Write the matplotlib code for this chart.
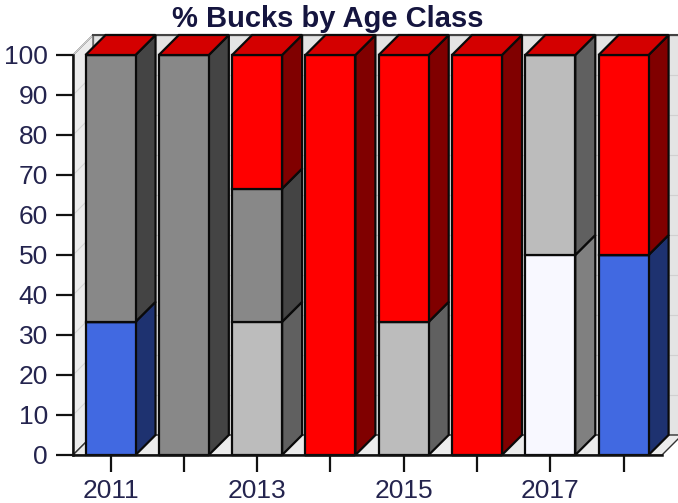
import matplotlib
matplotlib.use("Agg")
import matplotlib.pyplot as plt
from matplotlib.patches import Polygon
import numpy as np

plt.rcParams['font.family'] = ['Liberation Sans', 'DejaVu Sans']

years = [2011, 2012, 2013, 2014, 2015, 2016, 2017, 2018]
tick_labels = ['2011', '', '2013', '', '2015', '', '2017', '']
series_names = ['A', 'B', 'C', 'D', 'E']
s_blue = [33.3, 0, 0, 0, 0, 0, 0, 50.0]
s_white = [0, 0, 0, 0, 0, 0, 50.0, 0]
s_lgray = [0, 0, 33.3, 0, 33.3, 0, 50.0, 0]
s_dgray = [66.7, 100.0, 33.3, 0, 0, 0, 0, 0]
s_red = [0, 0, 33.4, 100.0, 66.7, 100.0, 0, 50.0]

series = [s_blue, s_white, s_lgray, s_dgray, s_red]
front_cols = ['#4169e1', '#f8f8ff', '#bcbcbc', '#888888', '#ff0000']
side_cols = ['#1e3270', '#808080', '#606060', '#444444', '#800000']
top_col = '#d40000'

W, H = 678, 503
fig = plt.figure(figsize=(W / 100, H / 100), dpi=100)
ax = fig.add_axes([73 / W, (H - 455) / H, 589 / W, 400 / H])
xmin, xmax = -0.512, 7.524
ax.set_xlim(xmin, xmax)
ax.set_ylim(0, 100)

dx, dy = 0.273, 5.0
bw = 0.682
wall = '#e4e4e4'
edge = '#0a0a0a'
elw = 1.6

# walls and floor
ax.add_patch(Polygon([(xmin + dx, dy), (xmax + dx, dy), (xmax + dx, 100 + dy), (xmin + dx, 100 + dy)],
                     closed=True, fc=wall, ec='#9a9a9a', lw=1.0, zorder=0.3, clip_on=False))
ax.add_patch(Polygon([(xmin, 0), (xmin, 100), (xmin + dx, 100 + dy), (xmin + dx, dy)],
                     closed=True, fc='#ececec', ec='#555555', lw=1.0, zorder=0.4, clip_on=False))
ax.add_patch(Polygon([(xmin, 0), (xmax, 0), (xmax + dx, dy), (xmin + dx, dy)],
                     closed=True, fc='#ececec', ec='#333333', lw=1.0, zorder=0.4, clip_on=False))
for v in range(10, 101, 10):
    ax.plot([xmin + dx, xmax + dx], [v + dy, v + dy], color='#d0d0d0', lw=0.8, zorder=0.35, clip_on=False)
    ax.plot([xmin, xmin + dx], [v, v + dy], color='#d6d6d6', lw=0.8, zorder=0.45, clip_on=False)
ax.plot([xmin + dx, xmax + dx], [100 + dy, 100 + dy], color='#444444', lw=1.5, zorder=0.5, clip_on=False)

x = np.arange(len(years))
bottom = np.zeros(len(years))
for vals, fc, sc in zip(series, front_cols, side_cols):
    vals = np.array(vals, dtype=float)
    bars = ax.bar(x, vals, bw, bottom=bottom, color=fc, edgecolor=edge, linewidth=elw,
                  zorder=3, clip_on=False)
    for rect, v in zip(bars, vals):
        if v <= 0:
            continue
        xr = rect.get_x() + rect.get_width()
        y0 = rect.get_y()
        y1 = y0 + rect.get_height()
        ax.add_patch(Polygon([(xr, y0), (xr + dx, y0 + dy), (xr + dx, y1 + dy), (xr, y1)],
                             closed=True, fc=sc, ec=edge, lw=elw, zorder=2.5, clip_on=False))
    bottom = bottom + vals

for rect_x, tot in zip(x, bottom):
    xl = rect_x - bw / 2
    xr = rect_x + bw / 2
    ax.add_patch(Polygon([(xl, tot), (xr, tot), (xr + dx, tot + dy), (xl + dx, tot + dy)],
                         closed=True, fc=top_col, ec=edge, lw=elw, zorder=3.5, clip_on=False))

for s in ['top', 'right']:
    ax.spines[s].set_visible(False)
for s in ['left', 'bottom']:
    ax.spines[s].set_linewidth(1.8)
    ax.spines[s].set_color('#111111')
    ax.spines[s].set_zorder(4)
ax.set_facecolor('none')

lab_col = '#24244e'
ax.set_yticks(range(0, 101, 10))
ax.set_xticks(x)
ax.set_xticklabels(tick_labels)
ax.tick_params(axis='both', length=12, width=1.6, color='#111111', labelsize=19, labelcolor=lab_col)
ax.tick_params(axis='y', pad=6)
ax.tick_params(axis='x', pad=5)

fig.text(0.484, 1 - 27 / H, '% Bucks by Age Class', ha='center', va='baseline',
         fontsize=21, fontweight='bold', color='#15153f')

fig.savefig('out.png', dpi=100)
